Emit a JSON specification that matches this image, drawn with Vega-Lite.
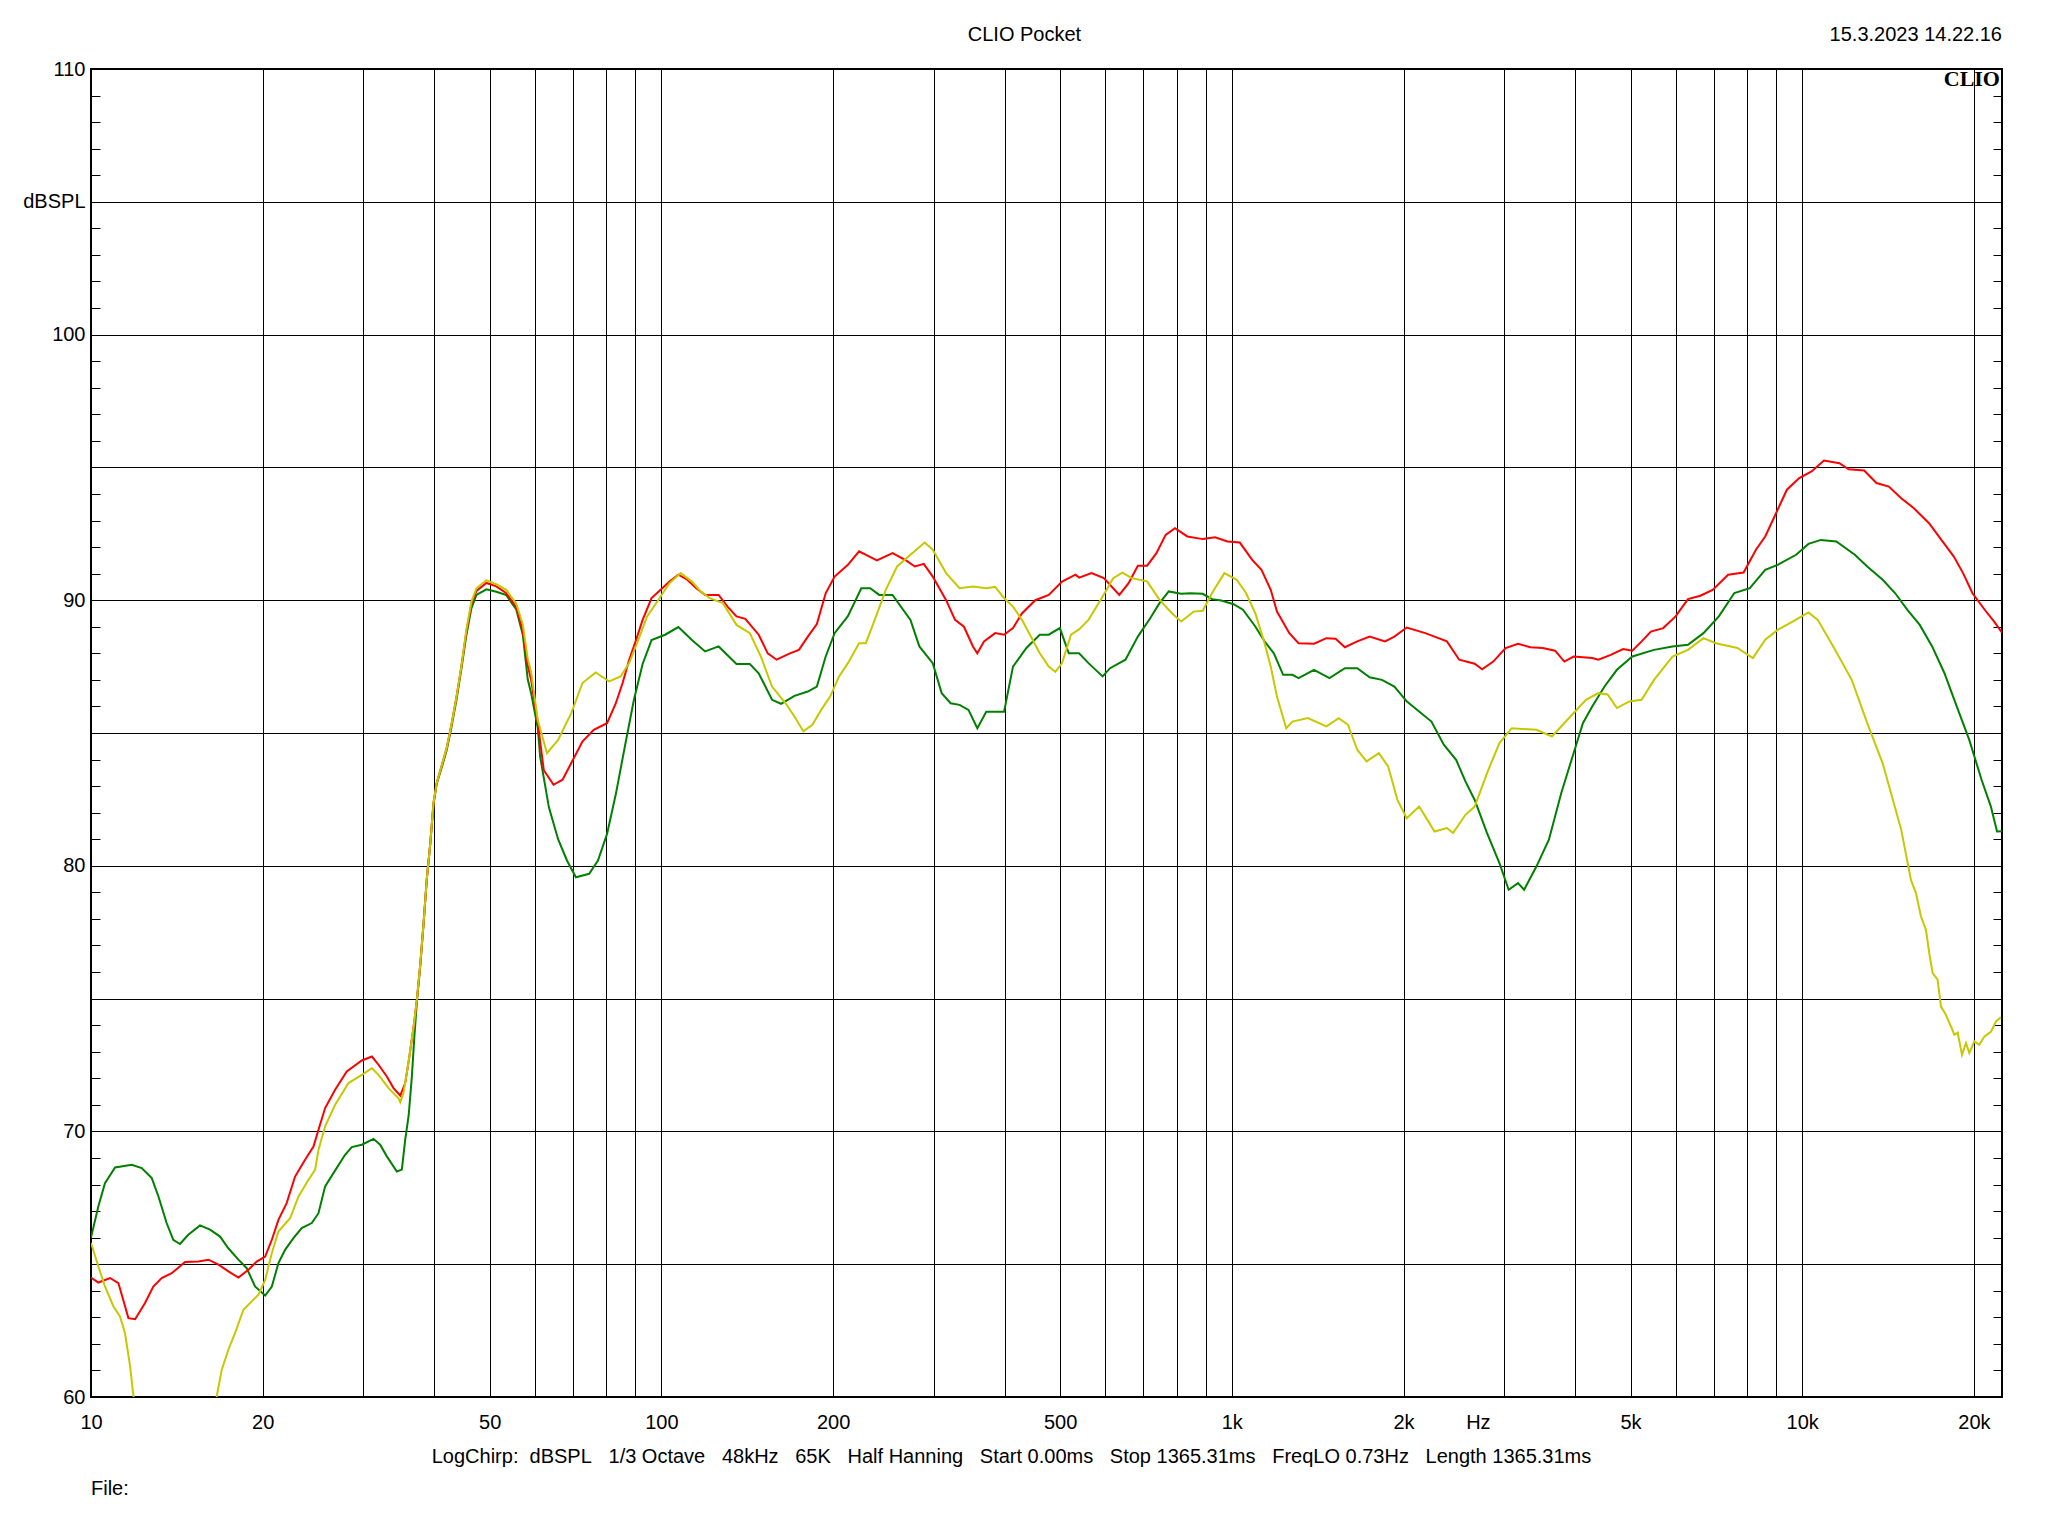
{
  "$schema": "https://vega.github.io/schema/vega-lite/v6.json",
  "width": 1911,
  "height": 1328,
  "autosize": "none",
  "padding": {"left": 91, "top": 69, "right": 46, "bottom": 139},
  "background": "white",
  "config": {
    "font": "Liberation Sans",
    "view": {"stroke": "black", "strokeWidth": 2},
    "axis": {"labelColor": "black", "labelFontSize": 20, "labelFont": "Liberation Sans", "titleColor": "black", "titleFont": "Liberation Sans"}
  },
  "datasets": {
    "green": [
      {"f":10,"db":66.0},{"f":10.3,"db":67.17},{"f":10.58,"db":68.05},{"f":11.02,"db":68.64},{"f":11.79,"db":68.74},{"f":12.27,"db":68.62},{"f":12.78,"db":68.24},{"f":13.13,"db":67.55},{"f":13.57,"db":66.55},{"f":13.94,"db":65.92},{"f":14.32,"db":65.76},{"f":14.81,"db":66.11},{"f":15.53,"db":66.46},{"f":16.17,"db":66.3},{"f":16.84,"db":66.04},{"f":17.41,"db":65.6},{"f":18.13,"db":65.17},{"f":18.75,"db":64.85},{"f":19.39,"db":64.16},{"f":20.2,"db":63.82},{"f":20.75,"db":64.16},{"f":21.31,"db":65.04},{"f":21.89,"db":65.54},{"f":22.64,"db":65.98},{"f":23.41,"db":66.36},{"f":24.38,"db":66.55},{"f":25.05,"db":66.92},{"f":25.73,"db":67.93},{"f":26.61,"db":68.43},{"f":27.89,"db":69.12},{"f":28.65,"db":69.41},{"f":29.84,"db":69.5},{"f":31.28,"db":69.72},{"f":32.13,"db":69.5},{"f":33.01,"db":69.06},{"f":34.37,"db":68.49},{"f":35.07,"db":68.56},{"f":35.55,"db":69.68},{"f":36.05,"db":70.6},{"f":36.5,"db":72.0},{"f":36.9,"db":73.6},{"f":37.27,"db":74.9},{"f":37.77,"db":76.2},{"f":38.28,"db":77.8},{"f":38.79,"db":79.5},{"f":39.32,"db":80.8},{"f":39.85,"db":82.3},{"f":40.38,"db":83.1},{"f":41.2,"db":83.7},{"f":42.03,"db":84.35},{"f":42.87,"db":85.25},{"f":43.74,"db":86.27},{"f":44.62,"db":87.44},{"f":45.52,"db":88.7},{"f":46.45,"db":89.7},{"f":47.39,"db":90.2},{"f":49.34,"db":90.41},{"f":51.36,"db":90.32},{"f":53.46,"db":90.19},{"f":55.66,"db":89.65},{"f":57.15,"db":88.7},{"f":58.3,"db":87.02},{"f":59.1,"db":86.5},{"f":60.7,"db":85.2},{"f":61.3,"db":84.1},{"f":63.5,"db":82.2},{"f":65.9,"db":81.0},{"f":68.3,"db":80.2},{"f":70.8,"db":79.57},{"f":74.7,"db":79.7},{"f":77.4,"db":80.2},{"f":80.3,"db":81.2},{"f":83.2,"db":82.7},{"f":86.3,"db":84.5},{"f":89.5,"db":86.25},{"f":92.7,"db":87.6},{"f":96.1,"db":88.5},{"f":101.5,"db":88.7},{"f":107.1,"db":88.99},{"f":113.1,"db":88.5},{"f":119.3,"db":88.07},{"f":126,"db":88.26},{"f":135.4,"db":87.6},{"f":142.9,"db":87.6},{"f":148.1,"db":87.25},{"f":156.3,"db":86.25},{"f":162.1,"db":86.1},{"f":171.1,"db":86.4},{"f":180.6,"db":86.56},{"f":187.3,"db":86.75},{"f":194.1,"db":87.88},{"f":201.2,"db":88.76},{"f":212.3,"db":89.4},{"f":224.1,"db":90.45},{"f":232.3,"db":90.45},{"f":240.9,"db":90.2},{"f":254.2,"db":90.2},{"f":273.3,"db":89.26},{"f":283.3,"db":88.26},{"f":299,"db":87.63},{"f":310,"db":86.5},{"f":321.4,"db":86.12},{"f":333.2,"db":86.06},{"f":345.4,"db":85.87},{"f":358,"db":85.18},{"f":371.1,"db":85.8},{"f":398.8,"db":85.8},{"f":413.4,"db":87.5},{"f":436.4,"db":88.2},{"f":460.6,"db":88.7},{"f":477.5,"db":88.7},{"f":499.5,"db":88.95},{"f":517.8,"db":88.0},{"f":539.8,"db":88.0},{"f":560.7,"db":87.63},{"f":593.6,"db":87.13},{"f":611.7,"db":87.44},{"f":651,"db":87.76},{"f":684.3,"db":88.63},{"f":719.3,"db":89.32},{"f":746.8,"db":89.89},{"f":775.2,"db":90.33},{"f":815,"db":90.24},{"f":846.1,"db":90.26},{"f":889.3,"db":90.24},{"f":923.3,"db":90.04},{"f":958.4,"db":89.99},{"f":1007.4,"db":89.85},{"f":1045.9,"db":89.64},{"f":1099.4,"db":89.01},{"f":1141.4,"db":88.45},{"f":1184.9,"db":88.0},{"f":1230.3,"db":87.19},{"f":1277.3,"db":87.19},{"f":1309.2,"db":87.07},{"f":1393.6,"db":87.38},{"f":1483.3,"db":87.07},{"f":1578.7,"db":87.44},{"f":1659.2,"db":87.44},{"f":1744.2,"db":87.1},{"f":1833.4,"db":87.0},{"f":1927.5,"db":86.75},{"f":2025.8,"db":86.19},{"f":2129.8,"db":85.81},{"f":2238.7,"db":85.43},{"f":2353,"db":84.56},{"f":2473.2,"db":83.99},{"f":2567.8,"db":83.18},{"f":2665.5,"db":82.48},{"f":2802,"db":81.23},{"f":2945.6,"db":80.1},{"f":3057.7,"db":79.1},{"f":3174.5,"db":79.35},{"f":3254.4,"db":79.1},{"f":3421.2,"db":79.98},{"f":3596.6,"db":80.98},{"f":3780.9,"db":82.74},{"f":3973.7,"db":84.24},{"f":4125.7,"db":85.37},{"f":4283.5,"db":86.0},{"f":4502,"db":86.75},{"f":4732.8,"db":87.38},{"f":5037.6,"db":87.88},{"f":5497.6,"db":88.13},{"f":5922.7,"db":88.26},{"f":6305,"db":88.32},{"f":6712,"db":88.76},{"f":7143,"db":89.39},{"f":7603,"db":90.27},{"f":8093,"db":90.45},{"f":8613,"db":91.14},{"f":9054,"db":91.33},{"f":9757,"db":91.71},{"f":10256,"db":92.12},{"f":10782,"db":92.27},{"f":11476,"db":92.21},{"f":12367,"db":91.71},{"f":13002,"db":91.27},{"f":13838,"db":90.77},{"f":14545,"db":90.27},{"f":15290,"db":89.64},{"f":16073,"db":89.07},{"f":16896,"db":88.26},{"f":17758,"db":87.25},{"f":18659,"db":86.0},{"f":19627,"db":84.74},{"f":20626,"db":83.24},{"f":21417,"db":82.23},{"f":21957,"db":81.29},{"f":22400,"db":81.3}
    ],
    "red": [
      {"f":10,"db":64.5},{"f":10.3,"db":64.31},{"f":10.8,"db":64.48},{"f":11.17,"db":64.29},{"f":11.63,"db":62.97},{"f":11.95,"db":62.93},{"f":12.43,"db":63.53},{"f":12.86,"db":64.16},{"f":13.3,"db":64.48},{"f":13.85,"db":64.66},{"f":14.62,"db":65.08},{"f":15.43,"db":65.1},{"f":16.07,"db":65.17},{"f":16.73,"db":64.98},{"f":17.41,"db":64.73},{"f":18.13,"db":64.5},{"f":18.88,"db":64.79},{"f":19.52,"db":65.1},{"f":20.2,"db":65.29},{"f":20.75,"db":65.92},{"f":21.31,"db":66.67},{"f":22.03,"db":67.3},{"f":22.79,"db":68.3},{"f":23.73,"db":68.93},{"f":24.55,"db":69.43},{"f":25.05,"db":70.06},{"f":25.73,"db":70.88},{"f":26.79,"db":71.57},{"f":28.08,"db":72.26},{"f":29.84,"db":72.67},{"f":31.08,"db":72.82},{"f":31.92,"db":72.51},{"f":33.01,"db":72.07},{"f":33.91,"db":71.63},{"f":34.85,"db":71.35},{"f":35.55,"db":71.82},{"f":36.05,"db":72.64},{"f":36.78,"db":73.94},{"f":37.27,"db":74.97},{"f":37.77,"db":76.27},{"f":38.28,"db":77.82},{"f":38.79,"db":79.51},{"f":39.32,"db":80.8},{"f":39.85,"db":82.36},{"f":40.38,"db":83.13},{"f":41.2,"db":83.78},{"f":42.03,"db":84.43},{"f":42.87,"db":85.34},{"f":43.74,"db":86.37},{"f":44.62,"db":87.54},{"f":45.52,"db":88.83},{"f":46.45,"db":89.87},{"f":47.39,"db":90.35},{"f":49.34,"db":90.65},{"f":51.36,"db":90.52},{"f":53.46,"db":90.26},{"f":55.66,"db":89.74},{"f":57.15,"db":88.83},{"f":58.3,"db":87.54},{"f":59.1,"db":87.0},{"f":60.7,"db":85.4},{"f":62.2,"db":83.6},{"f":64.7,"db":83.05},{"f":67.1,"db":83.24},{"f":69.5,"db":83.87},{"f":72.7,"db":84.68},{"f":76.1,"db":85.12},{"f":80.3,"db":85.37},{"f":83.2,"db":86.12},{"f":85.5,"db":86.88},{"f":87.8,"db":87.76},{"f":90.3,"db":88.51},{"f":92.7,"db":89.26},{"f":96.1,"db":90.08},{"f":99.7,"db":90.39},{"f":103.3,"db":90.7},{"f":107.1,"db":90.96},{"f":111,"db":90.77},{"f":115.1,"db":90.45},{"f":119.3,"db":90.2},{"f":126,"db":90.2},{"f":130.6,"db":89.76},{"f":135.4,"db":89.39},{"f":140.3,"db":89.3},{"f":148.1,"db":88.7},{"f":153.6,"db":88.0},{"f":159.2,"db":87.76},{"f":168,"db":88.0},{"f":174.2,"db":88.13},{"f":180.6,"db":88.63},{"f":187.3,"db":89.1},{"f":194.1,"db":90.26},{"f":201.2,"db":90.89},{"f":212.3,"db":91.33},{"f":222.1,"db":91.84},{"f":230.2,"db":91.67},{"f":238.7,"db":91.5},{"f":254.2,"db":91.77},{"f":268.4,"db":91.5},{"f":278.2,"db":91.27},{"f":288.4,"db":91.37},{"f":299,"db":90.89},{"f":315.6,"db":90.0},{"f":327.2,"db":89.26},{"f":339.2,"db":89.0},{"f":351.7,"db":88.26},{"f":358,"db":88.0},{"f":367.8,"db":88.45},{"f":384.7,"db":88.76},{"f":398.8,"db":88.7},{"f":413.4,"db":88.95},{"f":428.6,"db":89.5},{"f":452.4,"db":90.0},{"f":477.5,"db":90.2},{"f":504,"db":90.7},{"f":532,"db":90.96},{"f":540,"db":90.85},{"f":567.6,"db":91.02},{"f":596.6,"db":90.83},{"f":635,"db":90.2},{"f":659.2,"db":90.64},{"f":684.3,"db":91.3},{"f":710.4,"db":91.3},{"f":737.6,"db":91.77},{"f":765.6,"db":92.46},{"f":794.9,"db":92.71},{"f":835.6,"db":92.4},{"f":889.3,"db":92.3},{"f":934.8,"db":92.37},{"f":982.7,"db":92.21},{"f":1032.8,"db":92.17},{"f":1085.8,"db":91.52},{"f":1127.2,"db":91.14},{"f":1170.2,"db":90.39},{"f":1200,"db":89.57},{"f":1261.3,"db":88.76},{"f":1309.2,"db":88.38},{"f":1393.6,"db":88.36},{"f":1465,"db":88.57},{"f":1520.6,"db":88.55},{"f":1578.7,"db":88.23},{"f":1659.2,"db":88.45},{"f":1744.2,"db":88.63},{"f":1856.4,"db":88.45},{"f":1927.5,"db":88.63},{"f":2025.8,"db":88.97},{"f":2183.7,"db":88.76},{"f":2382.5,"db":88.45},{"f":2504.2,"db":87.76},{"f":2665.5,"db":87.61},{"f":2746.5,"db":87.4},{"f":2873,"db":87.69},{"f":3019.9,"db":88.2},{"f":3174.5,"db":88.36},{"f":3337,"db":88.23},{"f":3507.5,"db":88.2},{"f":3687.2,"db":88.1},{"f":3828.2,"db":87.69},{"f":3973.7,"db":87.88},{"f":4283.5,"db":87.82},{"f":4391.5,"db":87.76},{"f":4616.5,"db":87.94},{"f":4852,"db":88.16},{"f":5037.6,"db":88.1},{"f":5229.6,"db":88.45},{"f":5429.6,"db":88.82},{"f":5705.4,"db":88.95},{"f":5997.9,"db":89.39},{"f":6305,"db":90.04},{"f":6629,"db":90.17},{"f":6966,"db":90.39},{"f":7415,"db":90.96},{"f":7893,"db":91.04},{"f":8296,"db":91.9},{"f":8613,"db":92.4},{"f":8942,"db":93.15},{"f":9400,"db":94.16},{"f":9880,"db":94.6},{"f":10385,"db":94.85},{"f":10917,"db":95.26},{"f":11619,"db":95.16},{"f":12063,"db":94.93},{"f":12840,"db":94.88},{"f":13496,"db":94.41},{"f":14187,"db":94.28},{"f":14913,"db":93.84},{"f":15677,"db":93.47},{"f":16684,"db":92.9},{"f":17538,"db":92.27},{"f":18428,"db":91.65},{"f":19143,"db":91.02},{"f":19873,"db":90.27},{"f":20890,"db":89.64},{"f":21685,"db":89.2},{"f":22400,"db":88.78}
    ],
    "yellow": [
      {"f":10,"db":65.8},{"f":10.3,"db":64.92},{"f":10.58,"db":64.16},{"f":10.95,"db":63.41},{"f":11.24,"db":63.03},{"f":11.47,"db":62.41},{"f":11.71,"db":61.15},{"f":11.87,"db":60.02},{"f":12.1,"db":57},{"f":16.3,"db":57},{"f":16.61,"db":60.02},{"f":16.95,"db":61.02},{"f":17.41,"db":61.78},{"f":17.89,"db":62.41},{"f":18.5,"db":63.28},{"f":19.14,"db":63.6},{"f":19.66,"db":63.85},{"f":20.2,"db":64.41},{"f":20.75,"db":65.42},{"f":21.31,"db":66.23},{"f":22.34,"db":66.73},{"f":23.11,"db":67.55},{"f":24.06,"db":68.18},{"f":24.71,"db":68.55},{"f":25.05,"db":69.31},{"f":25.73,"db":70.19},{"f":26.79,"db":71.0},{"f":28.28,"db":71.82},{"f":29.84,"db":72.13},{"f":31.08,"db":72.38},{"f":31.92,"db":72.13},{"f":33.24,"db":71.63},{"f":34.6,"db":71.25},{"f":34.85,"db":71.1},{"f":35.3,"db":71.44},{"f":36.05,"db":72.64},{"f":36.78,"db":73.94},{"f":37.27,"db":74.97},{"f":37.77,"db":76.27},{"f":38.28,"db":77.82},{"f":38.79,"db":79.51},{"f":39.32,"db":80.8},{"f":39.85,"db":82.36},{"f":40.38,"db":83.13},{"f":41.2,"db":83.78},{"f":42.03,"db":84.43},{"f":42.87,"db":85.34},{"f":43.74,"db":86.37},{"f":44.62,"db":87.54},{"f":45.52,"db":88.9},{"f":46.45,"db":89.95},{"f":47.39,"db":90.45},{"f":49.34,"db":90.75},{"f":51.36,"db":90.6},{"f":53.46,"db":90.39},{"f":55.66,"db":89.87},{"f":57.15,"db":89.09},{"f":58.3,"db":87.8},{"f":59.1,"db":87.3},{"f":60.7,"db":85.5},{"f":63,"db":84.24},{"f":65.9,"db":84.74},{"f":69.5,"db":85.75},{"f":72.7,"db":86.88},{"f":76.7,"db":87.28},{"f":81,"db":86.94},{"f":84.8,"db":87.13},{"f":87.8,"db":87.63},{"f":91.1,"db":88.51},{"f":94.4,"db":89.39},{"f":99.7,"db":90.14},{"f":103.3,"db":90.64},{"f":108.1,"db":91.02},{"f":113.1,"db":90.7},{"f":117.2,"db":90.33},{"f":121.5,"db":90.08},{"f":128.2,"db":89.89},{"f":135.4,"db":89.07},{"f":142.9,"db":88.76},{"f":149.4,"db":87.88},{"f":156.3,"db":86.75},{"f":165.1,"db":86.12},{"f":171.1,"db":85.62},{"f":177.4,"db":85.06},{"f":183.9,"db":85.31},{"f":190.6,"db":85.87},{"f":197.6,"db":86.37},{"f":204.9,"db":87.13},{"f":212.3,"db":87.63},{"f":222.1,"db":88.38},{"f":228.2,"db":88.38},{"f":236.6,"db":89.26},{"f":247.4,"db":90.39},{"f":258.9,"db":91.27},{"f":273.3,"db":91.71},{"f":289.5,"db":92.17},{"f":299,"db":91.9},{"f":315.6,"db":91.02},{"f":333.2,"db":90.45},{"f":351.7,"db":90.52},{"f":371.1,"db":90.45},{"f":384.7,"db":90.5},{"f":398.8,"db":90.08},{"f":413.4,"db":89.76},{"f":428.6,"db":89.26},{"f":444.3,"db":88.63},{"f":460.6,"db":88.0},{"f":477.5,"db":87.5},{"f":490.6,"db":87.3},{"f":504,"db":87.63},{"f":522.5,"db":88.7},{"f":539.8,"db":88.9},{"f":560.7,"db":89.26},{"f":589.2,"db":90.02},{"f":619.4,"db":90.83},{"f":643,"db":91.04},{"f":667.5,"db":90.83},{"f":710.4,"db":90.71},{"f":746.8,"db":90.02},{"f":785.1,"db":89.51},{"f":815,"db":89.2},{"f":856.7,"db":89.57},{"f":889.3,"db":89.6},{"f":923.3,"db":90.27},{"f":970.5,"db":91.02},{"f":1020,"db":90.77},{"f":1059,"db":90.27},{"f":1099.4,"db":89.51},{"f":1141.4,"db":88.38},{"f":1170.2,"db":87.5},{"f":1200,"db":86.37},{"f":1245.7,"db":85.18},{"f":1277.3,"db":85.43},{"f":1359.3,"db":85.56},{"f":1465,"db":85.25},{"f":1539.6,"db":85.56},{"f":1598.4,"db":85.31},{"f":1659.2,"db":84.37},{"f":1722.6,"db":83.93},{"f":1810.8,"db":84.24},{"f":1879.6,"db":83.74},{"f":1951.6,"db":82.48},{"f":2025.8,"db":81.79},{"f":2129.8,"db":82.23},{"f":2183.7,"db":81.86},{"f":2266.4,"db":81.29},{"f":2382.5,"db":81.42},{"f":2442.6,"db":81.23},{"f":2567.8,"db":81.92},{"f":2665.5,"db":82.23},{"f":2802,"db":83.49},{"f":2945.6,"db":84.62},{"f":3096.6,"db":85.18},{"f":3421.2,"db":85.12},{"f":3641.6,"db":84.87},{"f":3876,"db":85.5},{"f":4177.3,"db":86.25},{"f":4391.5,"db":86.5},{"f":4558.4,"db":86.45},{"f":4732.8,"db":85.94},{"f":4974.3,"db":86.19},{"f":5229.6,"db":86.25},{"f":5497.6,"db":87.0},{"f":5922.7,"db":87.88},{"f":6305,"db":88.13},{"f":6712,"db":88.57},{"f":7055,"db":88.38},{"f":7698,"db":88.2},{"f":8194,"db":87.82},{"f":8613,"db":88.51},{"f":9054,"db":88.88},{"f":9636,"db":89.2},{"f":10256,"db":89.54},{"f":10648,"db":89.26},{"f":11334,"db":88.26},{"f":12214,"db":87.0},{"f":13002,"db":85.37},{"f":13838,"db":83.86},{"f":14913,"db":81.36},{"f":15510,"db":79.47},{"f":15827,"db":78.97},{"f":16150,"db":78.09},{"f":16480,"db":77.59},{"f":16700,"db":76.71},{"f":16930,"db":75.96},{"f":17270,"db":75.71},{"f":17510,"db":74.7},{"f":17860,"db":74.39},{"f":18230,"db":73.95},{"f":18480,"db":73.64},{"f":18730,"db":73.72},{"f":19060,"db":72.88},{"f":19370,"db":73.32},{"f":19630,"db":72.95},{"f":20030,"db":73.39},{"f":20440,"db":73.26},{"f":20860,"db":73.57},{"f":21430,"db":73.76},{"f":21860,"db":74.14},{"f":22300,"db":74.3}
    ]
  },
  "resolve": {"axis": {"y": "independent"}},
  "layer": [
    {
      "data": {"name": "green"},
      "mark": {"type": "line", "clip": true, "strokeWidth": 2, "color": "#008000"},
      "encoding": {
        "x": {
          "field": "f", "type": "quantitative",
          "scale": {"type": "log", "domain": [10, 22400], "nice": false},
          "axis": {
            "orient": "bottom",
            "values": [10,20,30,40,50,60,70,80,90,100,200,300,400,500,600,700,800,900,1000,2000,2700,3000,4000,5000,6000,7000,8000,9000,10000,20000],
            "grid": true, "gridColor": "black", "gridWidth": 1,
            "gridOpacity": {"condition": {"test": "datum.value == 2700 || datum.value == 10", "value": 0}, "value": 1},
            "ticks": false, "domain": false,
            "labelExpr": "datum.value == 2700 ? 'Hz' : (indexof([10,20,50,100,200,500], datum.value) >= 0 ? format(datum.value, 'd') : (indexof([1000,2000,5000,10000,20000], datum.value) >= 0 ? format(datum.value / 1000, 'd') + 'k' : ''))",
            "labelOverlap": false, "labelFlush": false, "labelBound": false, "labelPadding": 15,
            "title": "LogChirp:\u00a0\u00a0dBSPL\u00a0\u00a0\u00a01/3 Octave\u00a0\u00a0\u00a048kHz\u00a0\u00a0\u00a065K\u00a0\u00a0\u00a0Half Hanning\u00a0\u00a0\u00a0Start 0.00ms\u00a0\u00a0\u00a0Stop 1365.31ms\u00a0\u00a0\u00a0FreqLO 0.73Hz\u00a0\u00a0\u00a0Length 1365.31ms",
            "titleFontSize": 20, "titleFontWeight": "normal", "titlePadding": 14,
            "titleX": 920, "titleAlign": "center"
          }
        },
        "y": {
          "field": "db", "type": "quantitative",
          "scale": {"domain": [60, 110], "nice": false, "zero": false},
          "axis": {
            "orient": "left",
            "values": [60,61,62,63,64,65,66,67,68,69,70,71,72,73,74,75,76,77,78,79,80,81,82,83,84,85,86,87,88,89,90,91,92,93,94,95,96,97,98,99,100,101,102,103,104,105,106,107,108,109,110],
            "grid": true, "gridColor": "black", "gridWidth": 1,
            "gridOpacity": {"condition": {"test": "datum.value % 5 != 0", "value": 0}, "value": 1},
            "ticks": true, "tickSize": -9, "tickColor": "black", "tickWidth": 1,
            "domain": false,
            "labelExpr": "datum.value == 105 ? 'dBSPL' : (datum.value % 10 == 0 ? format(datum.value, 'd') : '')",
            "labelOverlap": false, "labelPadding": 15, "labelBound": false, "labelFlush": false,
            "title": null
          }
        }
      }
    },
    {
      "data": {"name": "red"},
      "mark": {"type": "line", "clip": true, "strokeWidth": 2, "color": "#ff0000"},
      "encoding": {
        "x": {"field": "f", "type": "quantitative"},
        "y": {"field": "db", "type": "quantitative", "axis": null}
      }
    },
    {
      "data": {"name": "yellow"},
      "mark": {"type": "line", "clip": true, "strokeWidth": 2, "color": "#c8c800"},
      "encoding": {
        "x": {"field": "f", "type": "quantitative"},
        "y": {"field": "db", "type": "quantitative", "axis": null}
      }
    },
    {
      "data": {"values": [{}]},
      "mark": {"type": "text", "align": "right", "baseline": "top", "font": "Liberation Serif", "fontWeight": "bold", "fontSize": 22, "color": "black", "dx": -2, "dy": 0},
      "encoding": {
        "x": {"datum": 22400, "type": "quantitative"},
        "y": {
          "datum": 110, "type": "quantitative",
          "axis": {
            "orient": "right",
            "values": [60,61,62,63,64,65,66,67,68,69,70,71,72,73,74,75,76,77,78,79,80,81,82,83,84,85,86,87,88,89,90,91,92,93,94,95,96,97,98,99,100,101,102,103,104,105,106,107,108,109,110],
            "grid": false, "ticks": true, "tickSize": -9, "tickColor": "black", "tickWidth": 1,
            "domain": false, "labels": false, "title": null
          }
        },
        "text": {"value": "CLIO"}
      }
    },
    {
      "data": {"values": [{}]},
      "mark": {"type": "text", "align": "center", "baseline": "middle", "fontSize": 20, "color": "black"},
      "encoding": {
        "x": {"datum": 433, "type": "quantitative"},
        "y": {"datum": 111.28, "type": "quantitative", "axis": null},
        "text": {"value": "CLIO Pocket"}
      }
    },
    {
      "data": {"values": [{}]},
      "mark": {"type": "text", "align": "right", "baseline": "middle", "fontSize": 20, "color": "black"},
      "encoding": {
        "x": {"datum": 22400, "type": "quantitative"},
        "y": {"datum": 111.28, "type": "quantitative", "axis": null},
        "text": {"value": "15.3.2023 14.22.16"}
      }
    },
    {
      "data": {"values": [{}]},
      "mark": {"type": "text", "align": "left", "baseline": "middle", "fontSize": 20, "color": "black"},
      "encoding": {
        "x": {"datum": 10, "type": "quantitative"},
        "y": {"datum": 56.54, "type": "quantitative", "axis": null},
        "text": {"value": "File:"}
      }
    }
  ]
}
